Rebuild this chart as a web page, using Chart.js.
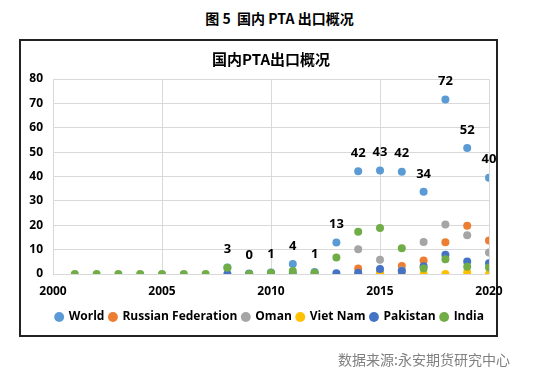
<!DOCTYPE html>
<html>
<head>
<meta charset="utf-8">
<script src="https://cdn.jsdelivr.net/npm/chart.js@4.4.0/dist/chart.umd.min.js"></script>
<style>
    body { margin: 0; background: #fff; }
    #page { position: relative; width: 541px; height: 383px; overflow: hidden; }
    #header {
        position: absolute; left: 0; width: 541px; top: 8px;
        text-align: center; padding-left: 18px; box-sizing: border-box;
        font: bold 14px "Noto Sans CJK SC", sans-serif; color: #000;
    }
    #box {
        position: absolute; left: 19px; top: 39px; width: 475px; height: 294px;
        border: 2px solid #222;
    }
    #source {
        position: absolute; right: 31px; top: 349px;
        font: 14px "Noto Sans CJK SC", sans-serif; color: #808080;
    }
    canvas { position: absolute; left: 0; top: 0; }
</style>
</head>
<body>
<div id="page">
    <div id="header">图 5&nbsp; 国内 PTA 出口概况</div>
    <div id="box"></div>
    <canvas id="ptaChart" width="541" height="383"></canvas>
    <div id="source">数据来源:永安期货研究中心</div>
</div>
<script>
// years 2001..2020
const years = [2001, 2002, 2003, 2004, 2005, 2006, 2007, 2008, 2009, 2010,
               2011, 2012, 2013, 2014, 2015, 2016, 2017, 2018, 2019, 2020];
const xTicks = [2000, 2005, 2010, 2015, 2020];

const world    = [null, null, null, null, null, null, null, 2.7, 0.2, 0.6, 4.1, 0.8, 12.9, 42.2, 42.5, 42.0, 33.7, 71.6, 51.7, 39.5];
const russia   = [null, null, null, null, null, null, null, null, null, null, null, null, null, 2.3, 0.5, 3.3, 5.5, 13.0, 19.8, 13.7];
const oman     = [null, null, null, null, null, null, null, null, null, null, null, null, null, 10.2, 5.8, 1.5, 13.1, 20.3, 15.9, 8.8];
const vietnam  = [null, null, null, null, null, null, null, null, null, null, null, null, null, 0, 0, 0, 0, 0, 0.6, 0];
const pakistan = [null, null, null, null, null, null, null, 0, 0, 0, 0, 0, 0.3, 0.5, 2.1, 1.2, 3.2, 7.9, 5.1, 4.4];
const india    = [0, 0, 0, 0, 0, 0, 0, 2.6, 0, 0.5, 1.2, 0.5, 6.8, 17.3, 18.9, 10.6, 2.3, 6.1, 3.0, 2.7];

const seriesNames  = ['World', 'Russian Federation', 'Oman', 'Viet Nam', 'Pakistan', 'India'];
const seriesValues = [world, russia, oman, vietnam, pakistan, india];
const seriesColors = ['#5B9BD5', '#ED7D31', '#A5A5A5', '#FFC000', '#4472C4', '#70AD47'];

const latin = '"Open Sans", sans-serif';

function toPoints(values) {
    return years.map((yr, i) => ({ x: yr, y: values[i] })).filter(p => p.y !== null);
}

const datasets = seriesNames.map((name, i) => ({
    label: name,
    data: toPoints(seriesValues[i]),
    backgroundColor: seriesColors[i],
    borderColor: seriesColors[i],
    pointRadius: 4,
    pointHoverRadius: 4,
    borderWidth: 0,
    // later series sit on top (India drawn last)
    order: seriesNames.length - i
}));

// World value labels above the points
const worldLabels = {
    id: 'worldLabels',
    afterDatasetsDraw(chart) {
        const meta = chart.getDatasetMeta(0);
        const ctx = chart.ctx;
        ctx.save();
        ctx.font = 'bold 13px ' + latin;
        ctx.fillStyle = '#000';
        ctx.textAlign = 'center';
        ctx.textBaseline = 'middle';
        meta.data.forEach((pt, idx) => {
            const v = chart.data.datasets[0].data[idx].y;
            ctx.fillText(String(Math.round(v)), pt.x, pt.y - 18);
        });
        ctx.restore();
    }
};

new Chart(document.getElementById('ptaChart'), {
    type: 'scatter',
    data: { datasets: datasets },
    options: {
        responsive: false,
        animation: false,
        layout: { padding: { top: 50, left: 10, right: 52, bottom: 50 } },
        plugins: {
            title: {
                display: true,
                fullSize: false,
                text: '国内PTA出口概况',
                color: '#000',
                font: { family: '"Noto Sans CJK SC", sans-serif', size: 15, weight: 'bold' },
                padding: { top: 0, bottom: 11 }
            },
            legend: {
                position: 'bottom',
                align: 'end',
                labels: {
                    usePointStyle: true,
                    pointStyle: 'circle',
                    boxWidth: 7,
                    boxHeight: 7,
                    padding: 5,
                    color: '#000',
                    font: { family: latin, size: 12, weight: 'bold' },
                    sort: (a, b) => a.datasetIndex - b.datasetIndex
                }
            },
            tooltip: { enabled: false }
        },
        scales: {
            x: {
                type: 'linear',
                min: 2000,
                max: 2020,
                afterBuildTicks: s => { s.ticks = xTicks.map(v => ({ value: v })); },
                ticks: {
                    autoSkip: false,
                    padding: 10,
                    color: '#000',
                    font: { family: latin, size: 12, weight: 'bold' },
                    callback: v => String(v)
                },
                grid: { color: '#D9D9D9', drawTicks: false },
                border: { display: false },
                afterFit: s => { s.height = 32; }
            },
            y: {
                min: 0,
                max: 80,
                ticks: {
                    stepSize: 10,
                    padding: 10,
                    color: '#000',
                    font: { family: latin, size: 12, weight: 'bold' }
                },
                grid: { color: '#D9D9D9', drawTicks: false },
                border: { display: false },
                afterFit: s => { s.width = 43; }
            }
        }
    },
    plugins: [worldLabels]
});
</script>
</body>
</html>
